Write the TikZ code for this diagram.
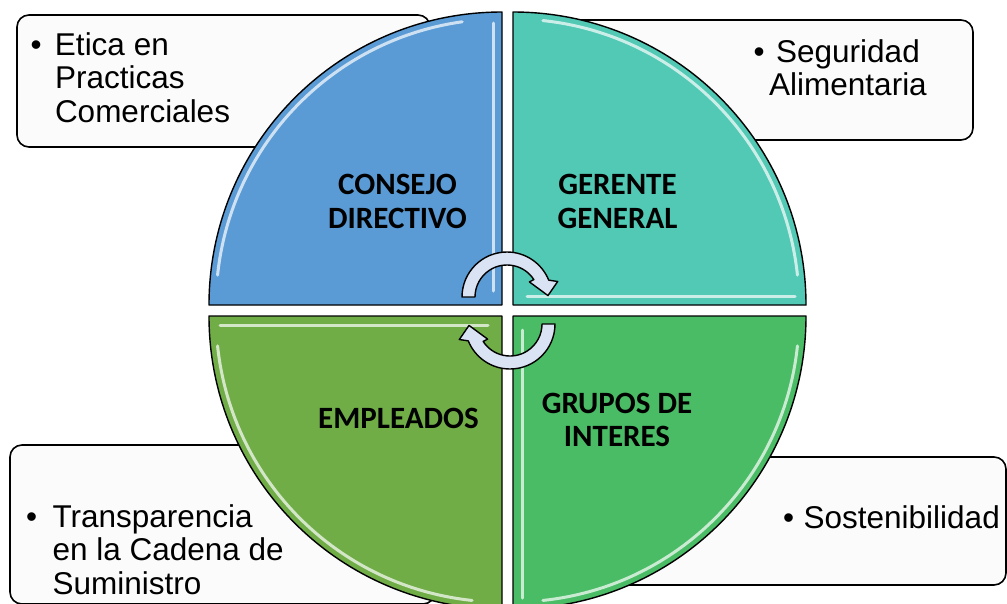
\documentclass[tikz,border=0pt]{standalone}
\usepackage{fontspec}
\setmainfont{Liberation Sans}
\newfontfamily\lblfont{Carlito}
\definecolor{qTL}{RGB}{91,155,213}
\definecolor{qTR}{RGB}{82,201,181}
\definecolor{qBL}{RGB}{112,173,71}
\definecolor{qBR}{RGB}{73,188,101}
\definecolor{arrowfill}{RGB}{218,227,243}
\definecolor{boxfill}{RGB}{251,251,251}
\begin{document}
\begin{tikzpicture}[x=1pt,y=-1pt,
  infobox/.style={draw=black, line width=1.6pt, fill=boxfill, rounded corners=12pt,
    inner sep=0pt, outer sep=0pt},
  quad/.style={draw=black, line width=1.4pt, line join=round},
  hl/.style={draw=white, line width=3pt, opacity=0.7, line cap=round},
  lbl/.style={font=\lblfont\bfseries\fontsize{31}{33.5}\selectfont, align=center, inner sep=0pt},
  txt/.style={font=\fontsize{31.5}{33.3}\selectfont, inner sep=0pt},
  cyc/.style={fill=arrowfill, draw=black, line width=1.4pt, line join=round}]
\useasboundingbox (0,0) rectangle (1007,603);
\fill[white] (0,0) rectangle (1007,603);

% text boxes (behind the circle)
\node[infobox, minimum width=413pt, minimum height=132pt] (boxTL) at (223.5,81) {};
\node[infobox, minimum width=433pt, minimum height=120pt] (boxTR) at (756.5,80) {};
\node[infobox, minimum width=425pt, minimum height=159pt] (boxBL) at (222.5,524.5) {};
\node[infobox, minimum width=446pt, minimum height=128pt] (boxBR) at (783,521) {};

% quadrants
\begin{scope}[shift={(502,305)}]
  \fill[qTL] (0,0) -- (180:293) arc[start angle=180,end angle=270,radius=293] -- cycle;
  \draw[hl] (186:286) arc[start angle=186,end angle=262,radius=286];
  \draw[hl] (-9,-282) -- (-9,-14);
  \draw[quad] (0,0) -- (180:293) arc[start angle=180,end angle=270,radius=293] -- cycle;
\end{scope}
\begin{scope}[shift={(513,305)}]
  \fill[qTR] (0,0) -- (270:293) arc[start angle=270,end angle=360,radius=293] -- cycle;
  \draw[hl] (276:286) arc[start angle=276,end angle=354,radius=286];
  \draw[hl] (14,-9) -- (282,-9);
  \draw[quad] (0,0) -- (270:293) arc[start angle=270,end angle=360,radius=293] -- cycle;
\end{scope}
\begin{scope}[shift={(513,316)}]
  \fill[qBR] (0,0) -- (0:293) arc[start angle=0,end angle=90,radius=293] -- cycle;
  \draw[hl] (6:286) arc[start angle=6,end angle=84,radius=286];
  \draw[hl] (9,14) -- (9,282);
  \draw[quad] (0,0) -- (0:293) arc[start angle=0,end angle=90,radius=293] -- cycle;
\end{scope}
\begin{scope}[shift={(502,316)}]
  \fill[qBL] (0,0) -- (90:293) arc[start angle=90,end angle=180,radius=293] -- cycle;
  \draw[hl] (96:286) arc[start angle=96,end angle=174,radius=286];
  \draw[hl] (-282,9) -- (-14,9);
  \draw[quad] (0,0) -- (90:293) arc[start angle=90,end angle=180,radius=293] -- cycle;
\end{scope}

% quadrant labels
\node[lbl] (lCD) at (397.5,201.5) {CONSEJO\\DIRECTIVO};
\node[lbl] (lGG) at (617.5,201.5) {GERENTE\\GENERAL};
\node[lbl, anchor=base] (lEM) at (398.5,428) {EMPLEADOS};
\node[lbl] (lGI) at (617,420) {GRUPOS DE\\INTERES};

% box texts
\node[txt, anchor=north west, align=left] (tTL) at (30.5,32.5)
  {\makebox[24.3pt][l]{\textbullet}Etica en\\\hspace*{24.3pt}Practicas\\\hspace*{24.3pt}Comerciales};
\node[txt, anchor=north, align=center] (tTR) at (848,39)
  {\llap{\textbullet\hspace{11.5pt}}Seguridad\\Alimentaria};
\node[txt, anchor=north west, align=left] (tBL) at (26,504.5)
  {\makebox[26.4pt][l]{\textbullet}Transparencia\\\hspace*{26.4pt}en la Cadena de\\\hspace*{26.4pt}Suministro};
\node[txt, anchor=base west] (tBR) at (783,528)
  {\makebox[20.5pt][l]{\textbullet}Sostenibilidad};

% circular arrows
\begin{scope}[shift={(507,297)}]
  \draw[cyc] (180:45) arc[start angle=180,end angle=338,radius=45] -- (343:53) -- (358:41)
    -- (326:27) -- (327:32) arc[start angle=327,end angle=180,radius=32] -- cycle;
\end{scope}
\begin{scope}[shift={(510,324)}]
  \draw[cyc] (0:45) arc[start angle=0,end angle=158,radius=45] -- (163:53) -- (178:41)
    -- (146:27) -- (147:32) arc[start angle=147,end angle=0,radius=32] -- cycle;
\end{scope}
\end{tikzpicture}
\end{document}
